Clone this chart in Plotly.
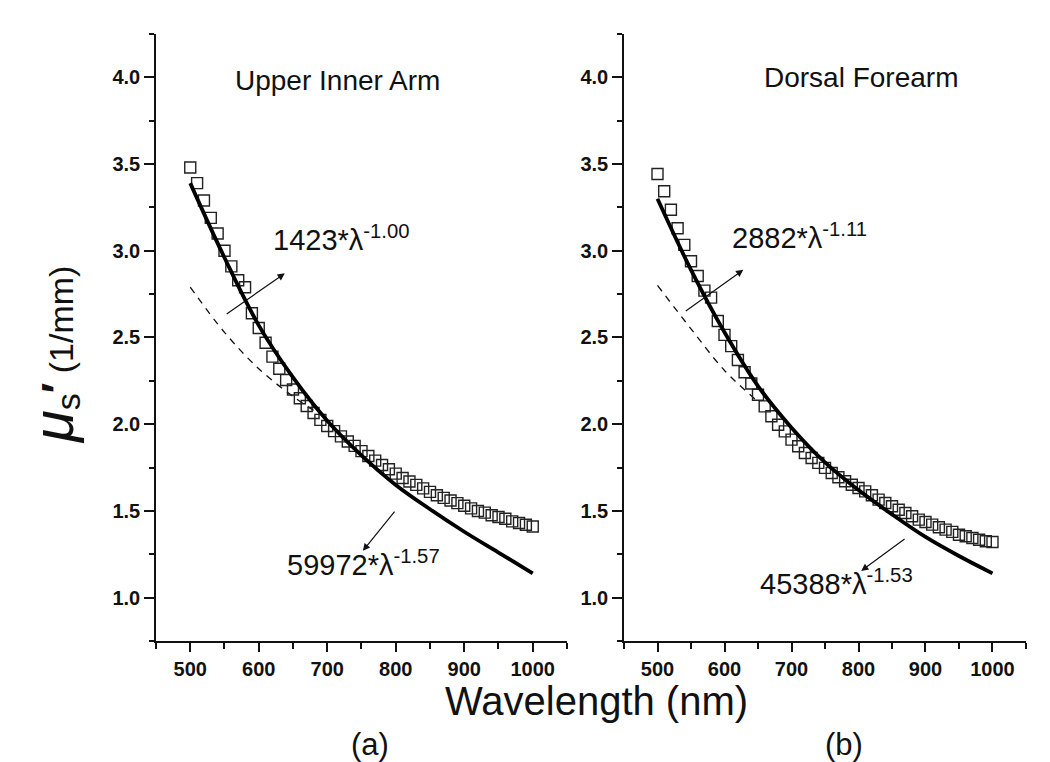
import plotly.graph_objects as go

# ---- data ----
wl = list(range(500, 1001, 10))

arm_mus = [3.48, 3.39, 3.29, 3.19, 3.10, 3.00, 2.91, 2.83, 2.79, 2.64,
           2.555, 2.47, 2.39, 2.32, 2.255, 2.20, 2.15, 2.105, 2.065, 2.025,
           1.99, 1.96, 1.93, 1.90, 1.875, 1.845, 1.817, 1.79, 1.765, 1.74,
           1.715, 1.69, 1.67, 1.65, 1.63, 1.61, 1.59, 1.575, 1.56, 1.545,
           1.53, 1.515, 1.50, 1.49, 1.475, 1.465, 1.455, 1.44, 1.43, 1.42, 1.41]

fore_mus = [3.443, 3.343, 3.237, 3.13, 3.034, 2.94, 2.855, 2.77, 2.73, 2.595,
            2.515, 2.45, 2.37, 2.30, 2.235, 2.17, 2.103, 2.046, 1.997, 1.959,
            1.911, 1.873, 1.834, 1.805, 1.777, 1.748, 1.719, 1.694, 1.671, 1.651,
            1.632, 1.613, 1.590, 1.565, 1.546, 1.527, 1.507, 1.488, 1.469, 1.45,
            1.436, 1.421, 1.406, 1.392, 1.379, 1.363, 1.354, 1.344, 1.334, 1.325, 1.321]

fit_wl = [500, 550, 600, 650, 700, 750, 800, 850, 900, 950, 1000]
arm_fit_solid = [3.39, 2.96, 2.57, 2.27, 2.02, 1.82, 1.65, 1.51, 1.38, 1.26, 1.14]
fore_fit_solid = [3.30, 2.89, 2.53, 2.22, 1.98, 1.78, 1.62, 1.48, 1.35, 1.24, 1.14]

arm_dash_wl = [500, 550, 600, 650, 680]
arm_fit_dash = [2.79, 2.53, 2.32, 2.16, 2.08]
fore_dash_wl = [500, 550, 600, 650]
fore_fit_dash = [2.80, 2.55, 2.31, 2.13]

panel_titles = ["Upper Inner Arm", "Dorsal Forearm"]
panel_labels = ["(a)", "(b)"]
fit_labels_short = ["1423*λ<sup>-1.00</sup>", "2882*λ<sup>-1.11</sup>"]
fit_labels_long = ["59972*λ<sup>-1.57</sup>", "45388*λ<sup>-1.53</sup>"]

# ---- figure ----
fig = go.Figure()
FONT = "Liberation Sans, Arial, sans-serif"

panels = [("x", "y", arm_mus, arm_fit_solid, arm_dash_wl, arm_fit_dash),
          ("x2", "y2", fore_mus, fore_fit_solid, fore_dash_wl, fore_fit_dash)]

for xa, ya, mus, solid, dwl, dash in panels:
    fig.add_trace(go.Scatter(x=dwl, y=dash, xaxis=xa, yaxis=ya, mode="lines",
                             line=dict(color="#111", width=1.3, dash="7px,6px"),
                             line_shape="spline", showlegend=False))
    fig.add_trace(go.Scatter(x=wl, y=mus, xaxis=xa, yaxis=ya, mode="markers",
                             marker=dict(symbol="square-open", size=11, color="#222",
                                         line=dict(width=1.4, color="#222")),
                             showlegend=False))
    fig.add_trace(go.Scatter(x=fit_wl, y=solid, xaxis=xa, yaxis=ya, mode="lines",
                             line=dict(color="#000", width=3.8), line_shape="spline",
                             showlegend=False))

xcommon = dict(range=[450, 1050], showline=True, linecolor="#111", linewidth=1.6,
               ticks="outside", ticklen=9, tickwidth=1.5, tickcolor="#111",
               tickvals=[500, 600, 700, 800, 900, 1000],
               tickfont=dict(family=FONT, size=20, color="#111", weight="bold"),
               minor=dict(dtick=50, tick0=450, ticks="outside", ticklen=6,
                          tickwidth=1.5, tickcolor="#111"),
               showgrid=False, zeroline=False, mirror=False)
ycommon = dict(range=[0.75, 4.25], showline=True, linecolor="#111", linewidth=1.6,
               ticks="outside", ticklen=10, tickwidth=1.5, tickcolor="#111",
               tickvals=[1.0, 1.5, 2.0, 2.5, 3.0, 3.5, 4.0],
               ticktext=["1.0", "1.5", "2.0", "2.5", "3.0", "3.5", "4.0"],
               tickfont=dict(family=FONT, size=20, color="#111", weight="bold"),
               minor=dict(dtick=0.25, tick0=0.75, ticks="outside", ticklen=5,
                          tickwidth=1.5, tickcolor="#111"),
               showgrid=False, zeroline=False, mirror=False)

fig.update_layout(
    width=1050, height=762,
    margin=dict(l=0, r=0, t=0, b=0),
    paper_bgcolor="white", plot_bgcolor="white",
    xaxis=dict(domain=[0.14095, 0.53238], anchor="y", **xcommon),
    yaxis=dict(domain=[0.16929, 0.96588], anchor="x", **ycommon),
    xaxis2=dict(domain=[0.58667, 0.96952], anchor="y2", **xcommon),
    yaxis2=dict(domain=[0.16929, 0.96588], anchor="x2", **ycommon),
)

ann = []
# panel titles
ann.append(dict(xref="x", yref="y", x=715, y=3.98, text=panel_titles[0], showarrow=False,
                xanchor="center", yanchor="middle",
                font=dict(family=FONT, size=28, color="#111")))
ann.append(dict(xref="x2", yref="y2", x=804, y=4.0, text=panel_titles[1], showarrow=False,
                xanchor="center", yanchor="middle",
                font=dict(family=FONT, size=28, color="#111")))
# fit labels
lab_font = dict(family=FONT, size=29, color="#111")
ann.append(dict(xref="x", yref="y", x=618, y=3.075, text=fit_labels_short[0], showarrow=False,
                xanchor="left", yanchor="middle", font=lab_font))
ann.append(dict(xref="x", yref="y", x=639, y=1.20, text=fit_labels_long[0], showarrow=False,
                xanchor="left", yanchor="middle", font=lab_font))
ann.append(dict(xref="x2", yref="y2", x=608, y=3.085, text=fit_labels_short[1], showarrow=False,
                xanchor="left", yanchor="middle", font=lab_font))
ann.append(dict(xref="x2", yref="y2", x=650, y=1.09, text=fit_labels_long[1], showarrow=False,
                xanchor="left", yanchor="middle", font=lab_font))
# arrows
arrow_style = dict(showarrow=True, arrowhead=2, arrowsize=1.2, arrowwidth=1.2,
                   arrowcolor="#111", text="")
ann.append(dict(xref="x", yref="y", axref="x", ayref="y", x=638, y=2.87, ax=551, ay=2.63, **arrow_style))
ann.append(dict(xref="x", yref="y", axref="x", ayref="y", x=752, y=1.27, ax=800, ay=1.505, **arrow_style))
ann.append(dict(xref="x2", yref="y2", axref="x2", ayref="y2", x=628, y=2.89, ax=540, ay=2.647, **arrow_style))
ann.append(dict(xref="x2", yref="y2", axref="x2", ayref="y2", x=804, y=1.154, ax=871, ay=1.344, **arrow_style))
# axis title and panel labels
ann.append(dict(xref="paper", yref="paper", x=588 / 1050, y=1 - 693 / 762,
                text="Wavelength (nm)", showarrow=False, xanchor="center", yanchor="middle",
                font=dict(family=FONT, size=40, color="#111")))
ann.append(dict(xref="paper", yref="paper", x=362 / 1050, y=1 - 736 / 762,
                text=panel_labels[0], showarrow=False, xanchor="center", yanchor="middle",
                font=dict(family=FONT, size=31, color="#111")))
ann.append(dict(xref="paper", yref="paper", x=836 / 1050, y=1 - 736 / 762,
                text=panel_labels[1], showarrow=False, xanchor="center", yanchor="middle",
                font=dict(family=FONT, size=31, color="#111")))
ann.append(dict(xref="paper", yref="paper", x=46 / 1050, y=1 - 347 / 762,
                text=("<i><span style='font-size:58px'>μ</span></i>"
                      "<sub><span style='font-size:34px'>s</span></sub>"
                      "<b><span style='font-size:44px'>′</span></b> (1/mm)"),
                showarrow=False, textangle=-90, xanchor="center", yanchor="middle",
                font=dict(family=FONT, size=34, color="#111")))

fig.update_layout(annotations=ann)
fig.write_html("out.html")
